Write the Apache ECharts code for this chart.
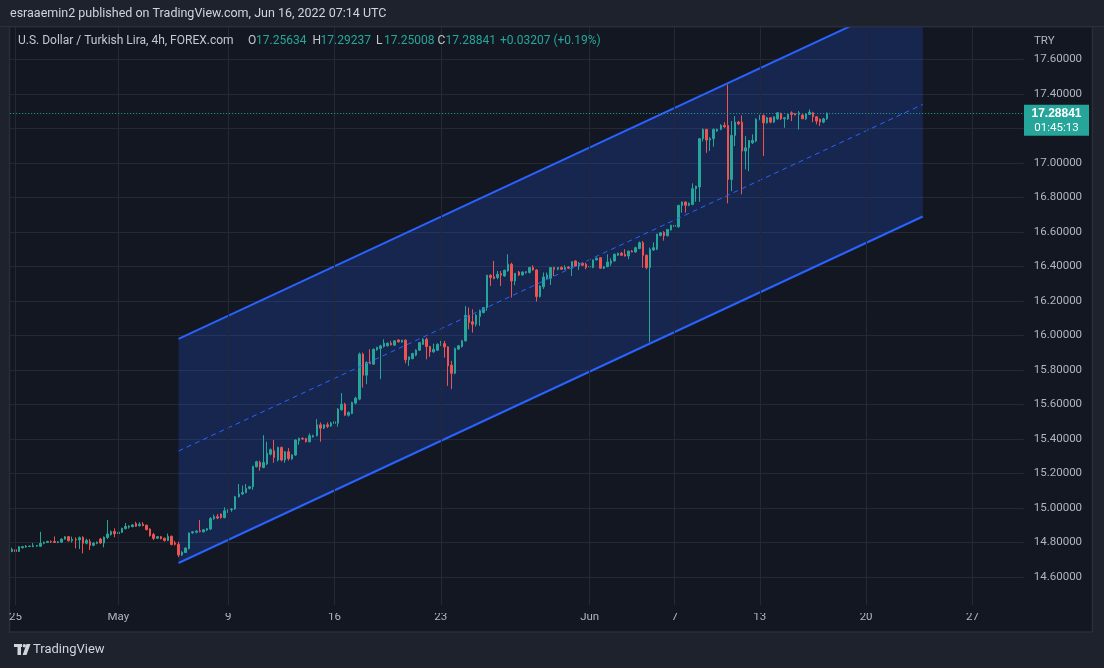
<!DOCTYPE html>
<html><head><meta charset="utf-8">
<script src="https://cdn.jsdelivr.net/npm/echarts@6/dist/echarts.min.js"></script>
<style>html,body{margin:0;padding:0;background:#1e222d;}#c{width:1104px;height:668px;}</style>
</head><body><div id="c"></div><script>
// ---- data (USD/TRY, 4h, FOREX.com) ----
const openPrices = [
14.748,14.758,14.748,14.770,14.774,14.777,14.776,14.779,14.778,14.795,
14.800,14.806,14.806,14.800,14.802,14.820,14.834,14.810,14.818,14.815,
14.830,14.796,14.806,14.784,14.795,14.820,14.797,14.829,14.846,14.864,
14.851,14.859,14.880,14.889,14.892,14.910,14.897,14.906,14.900,14.878,
14.846,14.825,14.834,14.825,14.812,14.836,14.797,14.790,14.728,14.742,
14.764,14.856,14.860,14.868,14.862,14.872,14.878,14.938,14.950,14.965,
14.944,14.978,14.990,14.994,15.065,15.081,15.090,15.114,15.123,15.239,
15.264,15.235,15.255,15.312,15.332,15.278,15.351,15.278,15.326,15.284,
15.307,15.390,15.403,15.403,15.384,15.413,15.419,15.482,15.463,15.482,
15.476,15.490,15.492,15.569,15.602,15.538,15.548,15.608,15.631,15.892,
15.770,15.843,15.834,15.917,15.924,15.936,15.940,15.955,15.944,15.974,
15.963,15.973,15.859,15.866,15.886,15.915,15.949,15.978,15.936,15.905,
15.915,15.946,15.953,15.934,15.828,15.781,15.921,15.936,15.969,16.117,
16.079,16.065,16.110,16.133,16.162,16.349,16.341,16.336,16.359,16.345,
16.374,16.413,16.316,16.368,16.351,16.365,16.365,16.394,16.380,16.226,
16.282,16.332,16.332,16.394,16.384,16.395,16.384,16.397,16.390,16.432,
16.403,16.419,16.413,16.397,16.394,16.438,16.451,16.390,16.399,16.419,
16.432,16.465,16.477,16.470,16.461,16.490,16.484,16.504,16.538,16.465,
16.394,16.496,16.500,16.580,16.597,16.578,16.612,16.632,16.630,16.754,
16.774,16.755,16.760,16.851,16.861,17.141,17.195,17.133,17.141,17.185,
17.195,17.218,17.218,16.905,17.160,17.237,17.237,17.069,17.088,17.117,
17.127,17.253,17.276,17.233,17.262,17.237,17.256,17.287,17.256,17.256,
17.291,17.285,17.282,17.278,17.256,17.282,17.291,17.268,17.253,17.237,
17.25634];
const highPrices = [
14.770,14.762,14.778,14.780,14.785,14.782,14.797,14.786,14.862,14.805,
14.810,14.812,14.835,14.808,14.824,14.838,14.838,14.834,14.830,14.835,
14.836,14.822,14.820,14.800,14.806,14.826,14.835,14.930,14.870,14.882,
14.882,14.886,14.913,14.900,14.906,14.920,14.918,14.918,14.904,14.882,
14.856,14.838,14.838,14.828,14.852,14.840,14.810,14.804,14.750,14.772,
14.858,14.866,14.872,14.930,14.878,14.884,14.946,14.962,14.965,14.968,
15.004,14.992,15.000,15.070,15.139,15.130,15.139,15.128,15.245,15.274,
15.274,15.422,15.384,15.345,15.394,15.356,15.356,15.330,15.347,15.312,
15.398,15.408,15.410,15.406,15.432,15.425,15.515,15.496,15.485,15.496,
15.500,15.505,15.580,15.666,15.610,15.560,15.616,15.645,15.901,15.901,
15.850,15.920,15.925,15.935,15.946,15.978,15.960,15.969,15.972,15.978,
15.975,15.978,15.878,15.900,15.920,15.960,15.985,15.988,15.940,15.953,
15.955,15.969,15.969,15.938,15.853,15.930,15.945,15.975,16.171,16.162,
16.152,16.125,16.150,16.165,16.352,16.355,16.432,16.374,16.374,16.382,
16.471,16.422,16.361,16.374,16.372,16.372,16.399,16.407,16.385,16.290,
16.365,16.365,16.394,16.398,16.396,16.400,16.407,16.402,16.430,16.436,
16.426,16.424,16.422,16.405,16.440,16.452,16.455,16.401,16.471,16.448,
16.475,16.480,16.484,16.500,16.490,16.495,16.515,16.545,16.548,16.470,
16.510,16.540,16.590,16.600,16.605,16.617,16.642,16.645,16.758,16.776,
16.778,16.772,16.882,16.868,17.145,17.200,17.198,17.150,17.200,17.200,
17.225,17.237,17.455,17.243,17.272,17.243,17.276,17.156,17.131,17.166,
17.260,17.280,17.280,17.268,17.266,17.270,17.295,17.292,17.265,17.285,
17.300,17.290,17.301,17.282,17.288,17.310,17.297,17.272,17.258,17.262,
17.29237];
const lowPrices = [
14.744,14.744,14.745,14.765,14.770,14.774,14.773,14.775,14.774,14.790,
14.797,14.798,14.797,14.796,14.799,14.816,14.806,14.800,14.766,14.762,
14.737,14.789,14.757,14.778,14.790,14.793,14.772,14.820,14.840,14.830,
14.846,14.855,14.876,14.880,14.888,14.890,14.893,14.894,14.870,14.834,
14.815,14.820,14.818,14.805,14.808,14.784,14.782,14.716,14.722,14.740,
14.760,14.850,14.852,14.858,14.858,14.866,14.872,14.932,14.935,14.938,
14.940,14.972,14.978,14.990,15.060,15.075,15.085,15.108,15.106,15.235,
15.216,15.230,15.249,15.305,15.262,15.270,15.270,15.262,15.275,15.280,
15.302,15.367,15.396,15.380,15.380,15.408,15.415,15.384,15.458,15.463,
15.470,15.480,15.471,15.565,15.535,15.530,15.544,15.600,15.625,15.698,
15.718,15.834,15.830,15.912,15.747,15.930,15.936,15.942,15.940,15.960,
15.958,15.839,15.824,15.862,15.880,15.910,15.945,15.862,15.876,15.900,
15.910,15.940,15.872,15.708,15.689,15.775,15.918,15.930,15.965,16.036,
16.017,16.052,16.056,16.128,16.143,16.287,16.326,16.326,16.287,16.340,
16.370,16.220,16.291,16.345,16.348,16.358,16.360,16.376,16.197,16.220,
16.270,16.325,16.293,16.345,16.378,16.380,16.380,16.385,16.345,16.400,
16.380,16.405,16.384,16.392,16.390,16.435,16.388,16.385,16.395,16.403,
16.430,16.462,16.462,16.458,16.442,16.482,16.480,16.500,16.393,16.384,
15.962,16.490,16.495,16.575,16.550,16.575,16.608,16.628,16.625,16.712,
16.712,16.750,16.755,16.775,16.775,17.125,17.059,17.070,17.094,17.180,
17.190,17.204,16.766,16.837,17.098,17.220,16.818,16.963,16.953,17.110,
17.120,17.248,17.040,17.228,17.230,17.232,17.250,17.250,17.204,17.250,
17.243,17.276,17.194,17.256,17.250,17.278,17.237,17.224,17.214,17.230,
17.25008];
const closePrices = [
14.760,14.748,14.776,14.776,14.779,14.779,14.781,14.782,14.795,14.801,
14.806,14.803,14.800,14.804,14.820,14.833,14.810,14.818,14.815,14.828,
14.796,14.812,14.783,14.797,14.802,14.797,14.831,14.850,14.863,14.851,
14.860,14.882,14.893,14.895,14.902,14.894,14.906,14.898,14.875,14.840,
14.824,14.834,14.822,14.812,14.836,14.788,14.790,14.728,14.744,14.768,
14.855,14.862,14.866,14.864,14.874,14.880,14.940,14.950,14.942,14.944,
14.984,14.990,14.994,15.065,15.081,15.090,15.114,15.123,15.241,15.268,
15.239,15.264,15.318,15.338,15.293,15.351,15.278,15.326,15.287,15.307,
15.394,15.403,15.400,15.384,15.419,15.419,15.482,15.463,15.482,15.473,
15.492,15.500,15.573,15.602,15.538,15.554,15.612,15.637,15.892,15.770,
15.843,15.837,15.920,15.930,15.940,15.955,15.955,15.946,15.969,15.963,
15.973,15.859,15.876,15.895,15.915,15.959,15.978,15.936,15.905,15.920,
15.949,15.953,15.934,15.824,15.781,15.924,15.940,15.969,16.117,16.075,
16.065,16.117,16.143,16.162,16.349,16.336,16.330,16.355,16.350,16.378,
16.413,16.316,16.361,16.351,16.368,16.370,16.394,16.380,16.226,16.287,
16.339,16.351,16.394,16.384,16.394,16.384,16.394,16.390,16.428,16.403,
16.419,16.407,16.394,16.400,16.438,16.448,16.390,16.399,16.426,16.432,
16.471,16.477,16.465,16.461,16.490,16.484,16.509,16.538,16.465,16.394,
16.500,16.509,16.587,16.595,16.578,16.615,16.639,16.639,16.754,16.774,
16.755,16.765,16.851,16.866,17.141,17.195,17.133,17.141,17.195,17.195,
17.218,17.210,16.905,17.160,17.237,17.227,17.069,17.088,17.131,17.131,
17.253,17.276,17.233,17.262,17.237,17.268,17.291,17.256,17.262,17.282,
17.282,17.278,17.291,17.256,17.285,17.295,17.268,17.243,17.237,17.256,
17.28841];

// time scale: 4h bars, Sunday 21:00 UTC to Friday 17:00 UTC
const firstBarUTC = '2022-04-24T21:00:00Z';
const totalBars = 286;
const tickDates = ['2022-04-25','2022-05-01','2022-05-09','2022-05-16','2022-05-23','2022-06-01','2022-06-07','2022-06-13','2022-06-20','2022-06-27'];
const tickTexts = ['25','May','9','16','23','Jun','7','13','20','27'];

// parallel channel drawing (bar index, price)
const channelBars = [47, 257];
const channelUpper = [15.980, 17.989];
const channelLower = [14.681, 16.690];
const channelMid = [(channelUpper[0]+channelLower[0])/2, (channelUpper[1]+channelLower[1])/2];

const lastPrice = 17.28841;
const countdown = '01:45:13';
const headerText = 'esraaemin2 published on TradingView.com, Jun 16, 2022 07:14 UTC';
const symbolText = 'U.S. Dollar / Turkish Lira, 4h, FOREX.com';
const ohlcLabels = ['O','H','L','C'];
const changeText = '+0.03207 (+0.19%)';
const currency = 'TRY';

// ---- build category scale ----
const cats = [];
let t = Date.parse(firstBarUTC);
while (cats.length < totalBars) {
  const d = new Date(t); const day = d.getUTCDay(), h = d.getUTCHours();
  if (!(day === 6 || (day === 5 && h >= 21) || (day === 0 && h < 21))) cats.push(d.toISOString().slice(0,10));
  t += 4*3600*1000;
}
const labelAt = {};
const tickIdx = [];
tickDates.forEach((dt, k) => { const idx = cats.indexOf(dt); if (idx >= 0) { labelAt[idx] = tickTexts[k]; tickIdx.push(idx); } });
const showTick = (idx) => labelAt[idx] !== undefined;

const candles = openPrices.map((o, i) => [o, closePrices[i], lowPrices[i], highPrices[i]]);

const UP = '#26a69a', DOWN = '#ef5350', BLUE = '#2962ff', GRID = '#252935';
const FONT = 'Roboto, "Noto Sans", sans-serif';

const chart = echarts.init(document.getElementById('c'), null, {width:1104, height:668});
chart.setOption({
  backgroundColor: '#1e222d',
  animation: false,
  grid: {left: 10.2, right: 80.2, top: 25, bottom: 56.5},
  xAxis: {
    type: 'category', data: cats, boundaryGap: true,
    axisLine: {show: false}, axisTick: {show: false},
    axisLabel: {interval: (i) => showTick(i), formatter: (v, i) => labelAt[i] || '',
      color: '#b2b5be', fontSize: 11.5, fontFamily: FONT, margin: 0},
    splitLine: {show: false}
  },
  yAxis: {
    type: 'value', position: 'right', min: 14.4, max: 17.8, interval: 0.2, scale: true,
    axisLine: {show: false}, axisTick: {show: false},
    axisLabel: {formatter: (v) => v.toFixed(5), color: '#b2b5be', fontSize: 11.5, fontFamily: FONT,
      margin: 10, showMinLabel: false, showMaxLabel: false},
    splitLine: {show: true, showMinLine: false, showMaxLine: false, lineStyle: {color: GRID, width: 1}}
  },
  series: [
    {
      // vertical time gridlines, centred on the labelled bars
      type: 'line', data: [], z: 0, silent: true, symbol: 'none',
      markLine: {silent: true, symbol: ['none','none'], label: {show: false}, animation: false,
        lineStyle: {type: 'solid', color: GRID, width: 1},
        data: tickIdx.map(i => ({xAxis: i}))}
    },
    {
      type: 'custom', clip: true, silent: true, z: 1,
      data: [[channelBars[0], channelLower[0]]],
      renderItem: (params, api) => {
        const pts = [
          api.coord([channelBars[0], channelUpper[0]]), api.coord([channelBars[1], channelUpper[1]]),
          api.coord([channelBars[1], channelLower[1]]), api.coord([channelBars[0], channelLower[0]])
        ];
        return {type: 'polygon', shape: {points: pts}, style: {fill: 'rgba(41,98,255,0.2)'}};
      }
    },
    {
      type: 'candlestick', data: candles, z: 2, barWidth: 2,
      itemStyle: {color: UP, color0: DOWN, borderColor: UP, borderColor0: DOWN, borderColorDoji: UP, borderWidth: 1},
      markLine: {silent: true, symbol: ['none','none'], label: {show: false},
        lineStyle: {type: [1, 2], color: UP, width: 1}, data: [{yAxis: lastPrice}]}
    },
    {type: 'line', z: 3, silent: true, symbol: 'none', lineStyle: {color: BLUE, width: 2},
      data: [[channelBars[0], channelUpper[0]], [channelBars[1], channelUpper[1]]]},
    {type: 'line', z: 3, silent: true, symbol: 'none', lineStyle: {color: BLUE, width: 2},
      data: [[channelBars[0], channelLower[0]], [channelBars[1], channelLower[1]]]},
    {type: 'line', z: 3, silent: true, symbol: 'none', lineStyle: {color: BLUE, width: 1, type: [5, 4]},
      data: [[channelBars[0], channelMid[0]], [channelBars[1], channelMid[1]]]}
  ]
});

const yPix = chart.convertToPixel({yAxisIndex: 0}, lastPrice);
const txt = (x, y, text, fill, size, extra) => Object.assign({type: 'text', x: x, y: y, z: 102,
  style: Object.assign({text: text, fill: fill, font: size + 'px ' + FONT, textVerticalAlign: 'middle', verticalAlign: 'middle', textAlign: 'left', align: 'left'}, extra || {})});
const ohlcVals = [openPrices[openPrices.length-1], highPrices[highPrices.length-1], lowPrices[lowPrices.length-1], closePrices[closePrices.length-1]];
const ohlcX = [248, 312.5, 376, 437.5];
const els = [
  {type: 'rect', z: -5, shape: {x: 9.5, y: 26.5, width: 1083, height: 605.5}, style: {fill: '#131722', stroke: '#2a2e39', lineWidth: 1.5}},
  {type: 'rect', z: 100, shape: {x: 0, y: 0, width: 1104, height: 26}, style: {fill: '#1e222d'}},
  {type: 'rect', z: 100, shape: {x: 0, y: 25.8, width: 1104, height: 1.4}, style: {fill: '#2a2e39'}},
  {type: 'rect', z: 100, shape: {x: 10.2, y: 605, width: 1013.6, height: 8}, style: {fill: '#131722'}},
  txt(10, 14, headerText, '#d1d4dc', 12.5),
  txt(18, 41, symbolText, '#c4c7ce', 12),
  txt(500, 41, changeText, UP, 12),
  txt(1034, 41, currency, '#b2b5be', 11.5),
  {type: 'rect', z: 101, shape: {x: 1024, y: yPix - 8.6, width: 65, height: 31}, style: {fill: UP}},
  txt(1056.5, yPix, lastPrice.toFixed(5), '#ffffff', 11.5, {textAlign: 'center', align: 'center', fontWeight: 'bold', font: 'bold 11.5px ' + FONT}),
  txt(1056.5, yPix + 14.5, countdown, '#ffffff', 11.5, {textAlign: 'center', align: 'center'}),
  {type: 'rect', z: 102, shape: {x: 14, y: 644, width: 8, height: 3}, style: {fill: '#d1d4dc'}},
  {type: 'rect', z: 102, shape: {x: 17.5, y: 644, width: 3.5, height: 11}, style: {fill: '#d1d4dc'}},
  {type: 'circle', z: 102, shape: {cx: 24.3, cy: 645.8, r: 1.7}, style: {fill: '#d1d4dc'}},
  {type: 'polygon', z: 102, shape: {points: [[26.5,644],[30.5,644],[26.5,655],[22.6,655]]}, style: {fill: '#d1d4dc'}},
  txt(33, 650, 'TradingView', '#d1d4dc', 13)
];
ohlcLabels.forEach((lab, k) => {
  els.push(txt(ohlcX[k], 41, lab, '#c4c7ce', 12));
  els.push(txt(ohlcX[k] + 8, 41, ohlcVals[k].toFixed(5), UP, 12));
});
chart.setOption({graphic: {elements: els}});
</script></body></html>
